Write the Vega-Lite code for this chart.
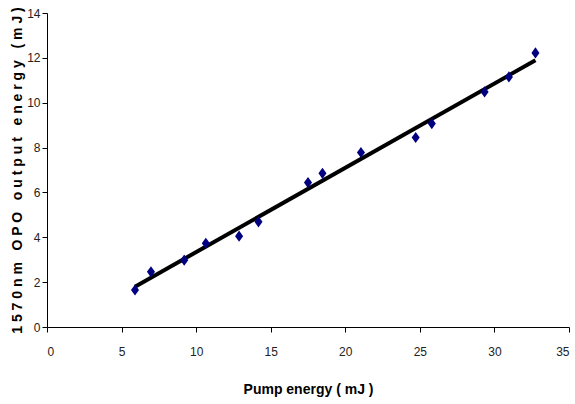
{
  "$schema": "https://vega.github.io/schema/vega-lite/v6.json",
  "autosize": "none",
  "width": 522,
  "height": 314,
  "padding": {"left": 47, "top": 13, "right": 6, "bottom": 77},
  "background": "white",
  "config": {
    "view": {"stroke": null},
    "font": "Liberation Sans, Arial, sans-serif",
    "axis": {
      "grid": false,
      "domainColor": "black",
      "tickColor": "black",
      "domainWidth": 1,
      "tickWidth": 1,
      "tickSize": 5,
      "labelFont": "Liberation Sans, sans-serif",
      "labelFontSize": 12,
      "labelColor": "#222",
      "titleFont": "Liberation Sans, sans-serif",
      "titleFontWeight": "bold",
      "titleFontSize": 14,
      "titleColor": "black"
    }
  },
  "data": {
    "values": [
      {"pump": 5.9, "output": 1.65},
      {"pump": 6.97, "output": 2.46},
      {"pump": 9.2, "output": 2.98},
      {"pump": 10.65, "output": 3.73},
      {"pump": 12.88, "output": 4.05},
      {"pump": 14.18, "output": 4.69},
      {"pump": 17.5, "output": 6.44},
      {"pump": 18.47, "output": 6.85},
      {"pump": 21.05, "output": 7.78},
      {"pump": 24.72, "output": 8.45},
      {"pump": 25.8, "output": 9.07},
      {"pump": 29.34, "output": 10.48},
      {"pump": 30.97, "output": 11.15},
      {"pump": 32.75, "output": 12.22}
    ]
  },
  "encoding": {
    "x": {
      "field": "pump",
      "type": "quantitative",
      "scale": {"domain": [0, 35], "nice": false, "zero": true},
      "axis": {"values": [0, 5, 10, 15, 20, 25, 30, 35], "title": "Pump energy ( mJ )", "labelPadding": 14, "titlePadding": 25}
    },
    "y": {
      "field": "output",
      "type": "quantitative",
      "scale": {"domain": [0, 14], "nice": false},
      "axis": {"values": [0, 2, 4, 6, 8, 10, 12, 14], "title": "1 5 7 0 n m \u00a0 O P O \u00a0 o u t p u t \u00a0 e n e r g y \u00a0 ( m J )", "labelPadding": 2, "titlePadding": 2}
    }
  },
  "layer": [
    {
      "transform": [{"regression": "output", "on": "pump"}],
      "mark": {"type": "line", "color": "black", "strokeWidth": 4}
    },
    {
      "mark": {"type": "point", "shape": "M0,-1L0.72,0L0,1L-0.72,0Z", "filled": true, "color": "#000080", "opacity": 1, "size": 125}
    }
  ]
}
